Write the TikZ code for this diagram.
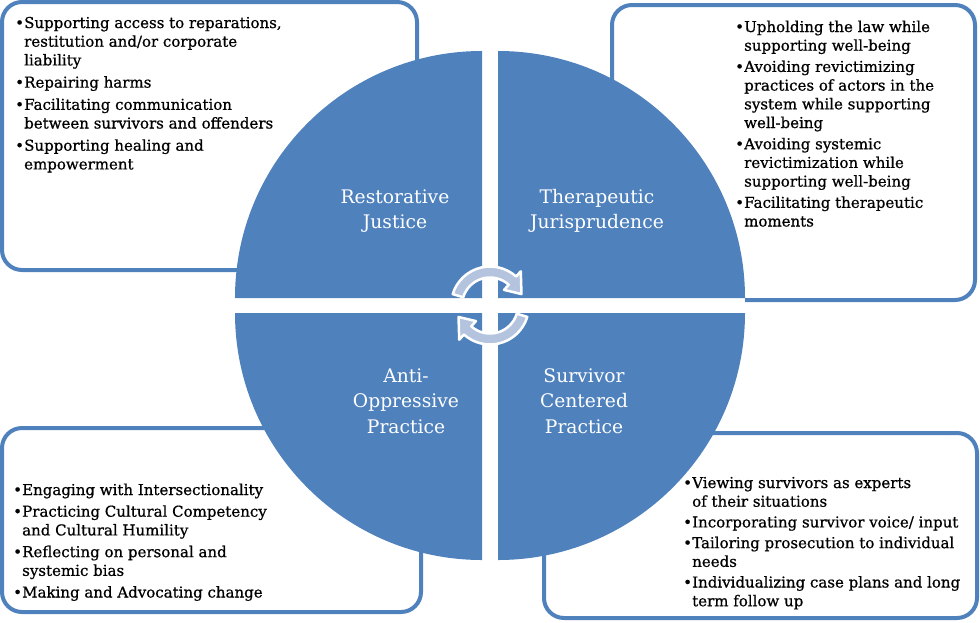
\documentclass[tikz,border=0pt]{standalone}
\usepackage{fontspec}
\setmainfont{DejaVu Serif}
\newfontfamily\lstfont[FakeBold=0.7]{DejaVu Serif}
\definecolor{qblue}{HTML}{4F81BD}
\definecolor{bblue}{HTML}{4F81BD}
\definecolor{afill}{HTML}{B4C4DE}
\newcommand{\bul}{\makebox[9pt][l]{•}}
\begin{document}
\begin{tikzpicture}[x=1pt,y=-1pt,
  box/.style={draw=bblue, line width=4pt, fill=white, rounded corners=20pt},
  quad/.style={fill=qblue},
  carrow/.style={fill=afill, draw=white, line width=2.5pt, line join=round},
  lbl/.style={text=white, align=center, inner sep=0, font=\fontsize{18.7}{25.5}\selectfont},
  lst/.style={anchor=base west, inner sep=0, font=\lstfont\fontsize{15}{18.7}\selectfont}]
\useasboundingbox (0,0) rectangle (980,622);
% boxes
\draw[box] (2,2) rectangle (417,270);
\draw[box] (612,5) rectangle (975,300);
\draw[box] (2,428) rectangle (421,612);
\draw[box] (544,433) rectangle (977,618);
% gaps between the quadrants
\fill[white] (235,298) rectangle (745,313);
\fill[white] (482,51) rectangle (498,560);
% quadrants
\fill[quad] (482,298) -- (235,298) arc[start angle=180, end angle=270, radius=247] -- cycle;
\fill[quad] (498,298) -- (498,51) arc[start angle=270, end angle=360, radius=247] -- cycle;
\fill[quad] (498,313) -- (745,313) arc[start angle=0, end angle=90, radius=247] -- cycle;
\fill[quad] (482,313) -- (482,560) arc[start angle=90, end angle=180, radius=247] -- cycle;
% circular arrows
\begin{scope}[shift={(490,305.5)}]
\filldraw[carrow] (197:39) arc[start angle=197, end angle=312, radius=39]
  -- (312:46) -- (340:33.5) -- (312:21) -- (312:28)
  arc[start angle=312, end angle=197, radius=28] -- cycle;
\filldraw[carrow] (17:39) arc[start angle=17, end angle=132, radius=39]
  -- (132:46) -- (160:33.5) -- (132:21) -- (132:28)
  arc[start angle=132, end angle=17, radius=28] -- cycle;
\end{scope}
% labels
\node[lbl] (rj) at (395,211) {Restorative\\Justice};
\node[lbl] (tj) at (597,211) {Therapeutic\\Jurisprudence};
\node[lbl] (aop) at (406,401) {Anti-\\Oppressive\\Practice};
\node[lbl] (scp) at (584,401) {Survivor\\Centered\\Practice};
% lists
\node[lst] (tl) at (15,28) {\begin{tabular}[t]{@{}l@{}l@{}}
\bul & Supporting access to reparations,\\
 & restitution and/or corporate\\
 & liability\\[3.5pt]
\bul & Repairing harms\\[3.5pt]
\bul & Facilitating communication\\
 & between survivors and offenders\\[3.5pt]
\bul & Supporting healing and\\
 & empowerment
\end{tabular}};
\node[lst] (tr) at (735,32) {\begin{tabular}[t]{@{}l@{}l@{}}
\bul & Upholding the law while\\
 & supporting well-being\\[2.5pt]
\bul & Avoiding revictimizing\\
 & practices of actors in the\\
 & system while supporting\\
 & well-being\\[2.5pt]
\bul & Avoiding systemic\\
 & revictimization while\\
 & supporting well-being\\[2.5pt]
\bul & Facilitating therapeutic\\
 & moments
\end{tabular}};
\node[lst] (bl) at (13,495) {\begin{tabular}[t]{@{}l@{}l@{}}
\bul & Engaging with Intersectionality\\[3pt]
\bul & Practicing Cultural Competency\\
 & and Cultural Humility\\[3pt]
\bul & Reflecting on personal and\\
 & systemic bias\\[3pt]
\bul & Making and Advocating change
\end{tabular}};
\node[lst] (br) at (683,488) {\begin{tabular}[t]{@{}l@{}l@{}}
\bul & Viewing survivors as experts\\
 & of their situations\\[2pt]
\bul & Incorporating survivor voice/ input\\[2pt]
\bul & Tailoring prosecution to individual\\
 & needs\\[2pt]
\bul & Individualizing case plans and long\\
 & term follow up
\end{tabular}};
\end{tikzpicture}
\end{document}
